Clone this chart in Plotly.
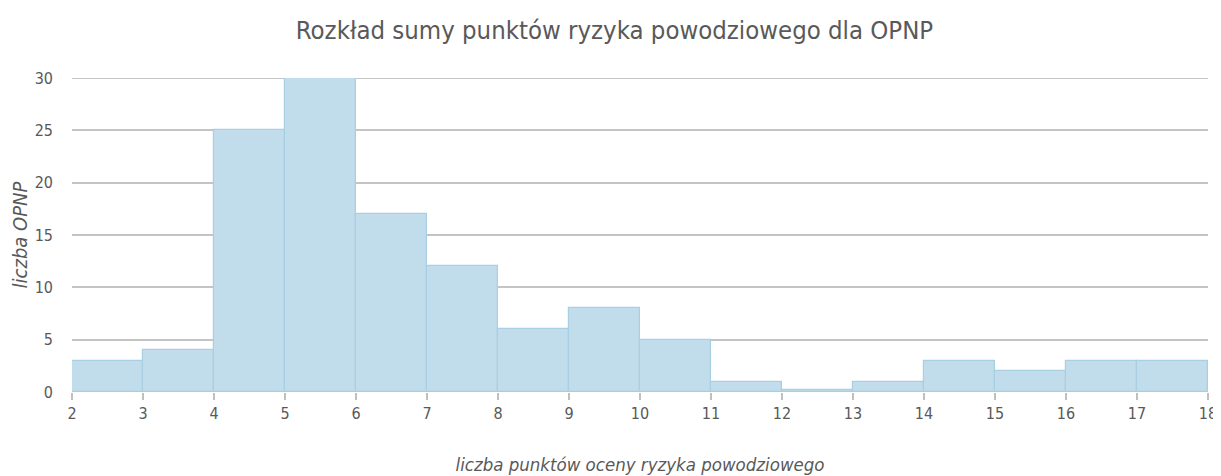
import plotly.graph_objects as go

bin_start = [2, 3, 4, 5, 6, 7, 8, 9, 10, 11, 12, 13, 14, 15, 16, 17]
counts = [3, 4, 25, 30, 17, 12, 6, 8, 5, 1, 0.15, 1, 3, 2, 3, 3]
x_ticks = list(range(2, 19))
y_ticks = [0, 5, 10, 15, 20, 25, 30]

title_text = "Rozkład sumy punktów ryzyka powodziowego dla OPNP"
x_title = "liczba punktów oceny ryzyka powodziowego"
y_title = "liczba OPNP"

FONT = "DejaVu Sans Condensed, Open Sans, sans-serif"
GRID = "#c4c4c4"

fig = go.Figure()
fig.add_trace(go.Bar(
    x=[b + 0.5 for b in bin_start],
    y=counts,
    width=1,
    marker=dict(color="#c1dcea", line=dict(color="#a9cfe2", width=1.2)),
    hoverinfo="skip",
))

# top gridline (plotly hides the grid line lying on the range edge)
fig.add_shape(type="line", xref="x domain", yref="y", x0=0, x1=1,
              y0=y_ticks[-1], y1=y_ticks[-1], line=dict(color=GRID, width=2), layer="below")

fig.update_layout(
    width=1213, height=468,
    paper_bgcolor="white", plot_bgcolor="white",
    margin=dict(l=64, r=13, t=70, b=84, autoexpand=False),
    showlegend=False,
    bargap=0,
    title=dict(text=title_text, x=0.5, xanchor="center", y=0.953, yanchor="middle",
               font=dict(family=FONT, size=25.5, color="#595959")),
    font=dict(family=FONT, color="#595959", size=15),
)
fig.update_xaxes(
    range=[2, 18], tickvals=x_ticks, ticktext=[str(t) for t in x_ticks],
    showgrid=False, zeroline=False, showline=False, automargin=False,
    ticks="outside", ticklen=7, tickcolor="#bfbfbf", tickwidth=1.5,
    tickfont=dict(family=FONT, size=16, color="#595959"),
    title=dict(text="<i>" + x_title + "</i>", font=dict(family=FONT, size=18.5, color="#595959"), standoff=35),
)
fig.update_yaxes(
    range=[0, 30], tickvals=y_ticks,
    showgrid=True, gridcolor=GRID, gridwidth=2,
    zeroline=False, showline=False, automargin=False,
    ticks="", ticklabelstandoff=18,
    tickfont=dict(family=FONT, size=16, color="#595959"),
    title=dict(text="<i>" + y_title + "</i>", font=dict(family=FONT, size=20, color="#595959"), standoff=9),
)

fig.write_html("out.html")
